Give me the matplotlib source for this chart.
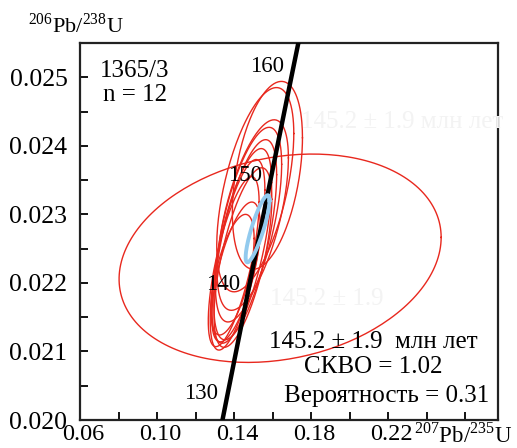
import numpy as np
import matplotlib
matplotlib.use("Agg")
import matplotlib.pyplot as plt
import matplotlib.transforms as mtransforms

plt.rcParams['font.family'] = ['Liberation Serif', 'DejaVu Serif']
plt.rcParams['mathtext.fontset'] = 'custom'
plt.rcParams['mathtext.rm'] = 'Liberation Serif'

# concordia points (age Ma, 207Pb/235U, 206Pb/238U)
conc_age = [120, 130, 140, 150, 160, 170]
conc_x = [0.125449, 0.136588, 0.147837, 0.159197, 0.170670, 0.182256]
conc_y = [0.018789, 0.020371, 0.021955, 0.023542, 0.025131, 0.026722]
conc_labels = [130, 140, 150, 160]

# analyses: 207/235, 206/238, error 207/235, error 206/238, rho
pt_x = [0.1573, 0.1510, 0.1497, 0.1475, 0.1458, 0.1440, 0.1418, 0.1446, 0.1398, 0.1410, 0.1392, 0.1639]
pt_y = [0.02357, 0.02336, 0.02299, 0.02285, 0.02263, 0.02254, 0.02241, 0.02237, 0.02231, 0.02216, 0.02212, 0.02236]
pt_ex = [0.0182, 0.0200, 0.0185, 0.0172, 0.0163, 0.0155, 0.0142, 0.0150, 0.0132, 0.0126, 0.0112, 0.0836]
pt_ey = [0.00137, 0.00149, 0.00139, 0.00142, 0.00146, 0.00142, 0.00139, 0.00131, 0.00124, 0.00102, 0.00088, 0.00152]
pt_rho = [0.40, 0.55, 0.60, 0.62, 0.65, 0.65, 0.68, 0.65, 0.70, 0.65, 0.60, 0.20]

# concordia age ellipse
age_x, age_y, age_ex, age_ey, age_rho = 0.1522, 0.02279, 0.0062, 0.00049, 0.85


def ellipse(x, y, ex, ey, rho):
    cov = np.array([[ex * ex, rho * ex * ey], [rho * ex * ey, ey * ey]])
    L = np.linalg.cholesky(cov)
    t = np.linspace(0, 2 * np.pi, 200)
    p = L @ np.vstack([np.cos(t), np.sin(t)])
    return x + p[0], y + p[1]


fig = plt.figure(figsize=(5.17, 4.48), dpi=100)
ax = fig.add_axes([0.1547, 0.0625, 0.8085, 0.8415])

ax.plot(conc_x, conc_y, color='black', lw=3.2, zorder=3)
for a in conc_labels:
    i = conc_age.index(a)
    ax.annotate(str(a), (conc_x[i], conc_y[i]), xytext=(-19, 1), textcoords='offset points',
                ha='center', va='center', fontsize=16.5, zorder=5)

for i in range(len(pt_x)):
    ex_, ey_ = ellipse(pt_x[i], pt_y[i], pt_ex[i], pt_ey[i], pt_rho[i])
    ax.plot(ex_, ey_, color='#e8281e', lw=1.0, zorder=2)

bx, by = ellipse(age_x, age_y, age_ex, age_ey, age_rho)
ax.plot(bx, by, color='#92caee', lw=2.8, zorder=4)

ax.set_xlim(0.06, 0.277)
ax.set_ylim(0.020, 0.0255)
xt = np.arange(0.06, 0.2701, 0.02)
ax.set_xticks(xt)
ax.set_xticklabels(['0.06', '', '0.10', '', '0.14', '', '0.18', '', '0.22', '', ''])
yt = np.arange(0.020, 0.02551, 0.0005)
ax.set_yticks(yt)
ax.set_yticklabels(['0.020', '', '0.021', '', '0.022', '', '0.023', '', '0.024', '', '0.025', ''])
ax.tick_params(direction='in', length=6, width=1.3, labelsize=18.5, pad=9)
ax.tick_params(axis='x', pad=3, labelsize=17.5)
shift = mtransforms.ScaledTranslation(3 / 100, 0, fig.dpi_scale_trans)
for lab in ax.get_xticklabels():
    lab.set_transform(lab.get_transform() + shift)
for s in ax.spines.values():
    s.set_linewidth(1.6)
    s.set_color('#222222')

ax.text(0.048, 0.927, '1365/3', transform=ax.transAxes, fontsize=18, va='center', ha='left')
ax.text(0.055, 0.862, 'n = 12', transform=ax.transAxes, fontsize=18, va='center', ha='left')

# faint ghost text in the scan
ax.text(0.77, 0.79, '145.2 ± 1.9 млн лет', transform=ax.transAxes, fontsize=18, color='#f3f3f3', ha='center', va='center')
ax.text(0.59, 0.32, '145.2 ± 1.9', transform=ax.transAxes, fontsize=18, color='#f3f3f3', ha='center', va='center')

ax.text(0.701, 0.207, '145.2 ± 1.9  млн лет', transform=ax.transAxes, fontsize=18, ha='center', va='center')
ax.text(0.701, 0.141, 'СКВО = 1.02', transform=ax.transAxes, fontsize=18, ha='center', va='center')
ax.text(0.734, 0.064, 'Вероятность = 0.31', transform=ax.transAxes, fontsize=18, ha='center', va='center')

fig.text(28 / 517, 1 - 25 / 448, r'$^{206}$Pb/$^{238}$U', fontsize=16, ha='left', va='center')
fig.text(414 / 517, 1 - 435 / 448, r'$^{207}$Pb/$^{235}$U', fontsize=16.5, ha='left', va='center')

fig.savefig('out.png', dpi=100)
